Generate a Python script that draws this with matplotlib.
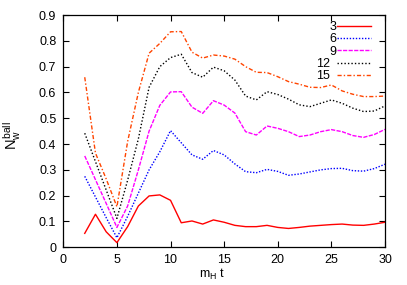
import matplotlib
matplotlib.use("Agg")
import matplotlib.pyplot as plt

plt.rcParams['font.family'] = ['Liberation Sans', 'DejaVu Sans']
plt.rcParams['mathtext.fontset'] = 'custom'
plt.rcParams['mathtext.rm'] = 'Liberation Sans'
plt.rcParams['mathtext.it'] = 'Liberation Sans'

t = list(range(2, 31))
labels = ["3", "6", "9", "12", "15"]
n3 = [0.054, 0.128, 0.06, 0.018, 0.08, 0.16, 0.199, 0.203, 0.182, 0.095, 0.102, 0.09, 0.106, 0.097,
      0.085, 0.08, 0.08, 0.085, 0.077, 0.073, 0.077, 0.082, 0.085, 0.088, 0.09, 0.086, 0.085, 0.09, 0.097]
n6 = [0.275, 0.195, 0.115, 0.037, 0.12, 0.21, 0.3, 0.37, 0.452, 0.405, 0.358, 0.341, 0.375, 0.358,
      0.323, 0.293, 0.289, 0.302, 0.294, 0.279, 0.284, 0.292, 0.3, 0.305, 0.306, 0.297, 0.295, 0.305, 0.322]
n9 = [0.354, 0.262, 0.17, 0.077, 0.16, 0.3, 0.45, 0.55, 0.602, 0.603, 0.543, 0.519, 0.568, 0.551,
      0.52, 0.448, 0.435, 0.47, 0.461, 0.448, 0.429, 0.435, 0.448, 0.456, 0.448, 0.433, 0.426, 0.437, 0.457]
n12 = [0.442, 0.332, 0.222, 0.112, 0.26, 0.42, 0.62, 0.7, 0.735, 0.748, 0.677, 0.659, 0.698, 0.684,
       0.648, 0.586, 0.571, 0.603, 0.592, 0.574, 0.552, 0.545, 0.558, 0.571, 0.558, 0.539, 0.526, 0.528, 0.548]
n15 = [0.659, 0.365, 0.265, 0.157, 0.41, 0.6, 0.752, 0.79, 0.835, 0.836, 0.756, 0.733, 0.745, 0.741,
       0.729, 0.7, 0.678, 0.677, 0.661, 0.642, 0.632, 0.62, 0.619, 0.629, 0.606, 0.593, 0.584, 0.584, 0.586]

series = [n3, n6, n9, n12, n15]
colors = ['#ff0000', '#0000ff', '#ff00ff', '#000000', '#ff4500']
styles = ['-', (0, (1, 1.2)), (0, (3, 1)), (0, (1, 1.5)), (0, (3, 1.5, 1, 1.5))]

fig = plt.figure(figsize=(4.07, 2.85), dpi=100)
ax = fig.add_axes([0.1555, 0.1323, 0.7905, 0.8150])
for y, c, ls, lab in zip(series, colors, styles, labels):
    ax.plot(t, y, color=c, linestyle=ls, linewidth=1.0, label=lab)

ax.set_xlim(0, 30)
ax.set_ylim(0, 0.9)
ax.set_xticks([0, 5, 10, 15, 20, 25, 30])
ax.set_yticks([0, 0.1, 0.2, 0.3, 0.4, 0.5, 0.6, 0.7, 0.8, 0.9])
ax.set_yticklabels(['0', '0.1', '0.2', '0.3', '0.4', '0.5', '0.6', '0.7', '0.8', '0.9'])
ax.tick_params(direction='in', top=True, right=True, labelsize=9, length=4, width=0.8, pad=5)
for s in ax.spines.values():
    s.set_linewidth(0.9)
ax.set_xlabel(r'$m_H$ t', fontsize=9)
ax.xaxis.set_label_coords(0.462, -0.085)
ax.set_ylabel(r'$N_w^{ball}$', fontsize=10.5)
ax.yaxis.set_label_coords(-0.125, 0.48)
leg = ax.legend(loc='upper right', bbox_to_anchor=(0.972, 0.995), frameon=False,
                markerfirst=False, fontsize=9, handlelength=2.7, labelspacing=0.02,
                borderaxespad=0.0, handletextpad=0.6)
fig.canvas.draw()
renderer = fig.canvas.get_renderer()
texts = leg.get_texts()
widths = [tx.get_window_extent(renderer).width for tx in texts]
maxw = max(widths)
for tx, w in zip(texts, widths):
    tx.set_position((maxw - w, 0))
fig.savefig('out.png', dpi=100)
